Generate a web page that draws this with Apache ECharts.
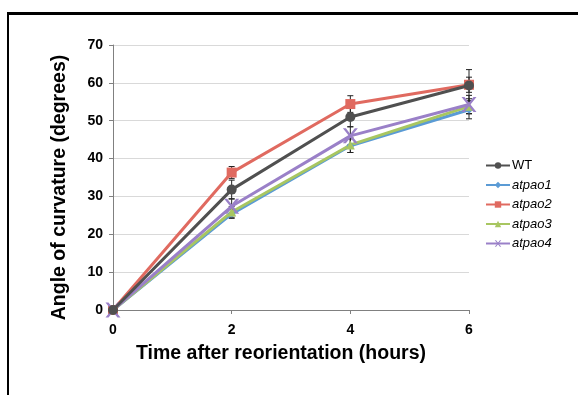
<!DOCTYPE html>
<html>
<head>
<meta charset="utf-8">
<script src="https://cdn.jsdelivr.net/npm/echarts@6/dist/echarts.min.js"></script>
<style>
  html, body { margin: 0; padding: 0; background: #fff; }
  #frame { position: absolute; left: 7px; top: 12px; width: 571px; height: 383px;
           border-left: 2px solid #000; border-top: 3px solid #000; box-sizing: border-box; }
  #main { position: absolute; left: 0; top: 0; width: 578px; height: 395px; }
</style>
</head>
<body>
<div id="frame"></div>
<div id="main"></div>
<script>
// hours
var hours = [0, 2, 4, 6];
var names = ['WT', 'atpao1', 'atpao2', 'atpao3', 'atpao4'];
// mean angle (degrees)
var wt     = [0, 31.8, 51.0, 59.3];
var atpao1 = [0, 25.4, 43.4, 52.9];
var atpao2 = [0, 36.3, 54.4, 59.5];
var atpao3 = [0, 25.9, 43.6, 53.8];
var atpao4 = [0, 27.4, 46.0, 54.3];
// error (+/-)
var wtErr     = [0, 2.5, 2.6, 4.2];
var atpao1Err = [0, 1.2, 1.8, 2.4];
var atpao2Err = [0, 1.6, 2.2, 2.0];
var atpao3Err = [0, 1.4, 2.0, 2.0];
var atpao4Err = [0, 2.0, 2.4, 2.4];

var means = [wt, atpao1, atpao2, atpao3, atpao4];
var errs = [wtErr, atpao1Err, atpao2Err, atpao3Err, atpao4Err];
var colors = ['#505050', '#5b9bd5', '#e06a60', '#a8c661', '#9a80c8'];
var symbols = ['circle', 'diamond', 'rect', 'triangle',
  'path://M0,0 L2,0 L5,3 L8,0 L10,0 L6,4 L10,8 L8,8 L5,5 L2,8 L0,8 L4,4 Z'];
var sizes = [10, 8, 10, 9, 15];

var myChart = echarts.init(document.getElementById('main'));

var series = [];
// error bars first so the lines sit over them
names.forEach(function (n, k) {
  var d = hours.map(function (h, i) {
    return [h, means[k][i] - errs[k][i], means[k][i] + errs[k][i]];
  });
  series.push({
    type: 'custom',
    name: n + '_err',
    z: 1,
    data: d,
    encode: { x: 0, y: [1, 2] },
    renderItem: function (params, api) {
      var lo = api.coord([api.value(0), api.value(1)]);
      var hi = api.coord([api.value(0), api.value(2)]);
      var w = 3;
      var st = { stroke: '#222', lineWidth: 1 };
      return {
        type: 'group',
        children: [
          { type: 'line', shape: { x1: lo[0], y1: lo[1], x2: hi[0], y2: hi[1] }, style: st },
          { type: 'line', shape: { x1: lo[0] - w, y1: lo[1], x2: lo[0] + w, y2: lo[1] }, style: st },
          { type: 'line', shape: { x1: hi[0] - w, y1: hi[1], x2: hi[0] + w, y2: hi[1] }, style: st }
        ]
      };
    }
  });
});
names.forEach(function (n, k) {
  series.push({
    type: 'line',
    name: n,
    z: 3 + (k === 0 ? 2 : 0),
    data: hours.map(function (h, i) { return [h, means[k][i]]; }),
    symbol: symbols[k],
    symbolSize: sizes[k],
    showAllSymbol: true,
    itemStyle: { color: colors[k] },
    lineStyle: { color: colors[k], width: 3 }
  });
});

myChart.setOption({
  animation: false,
  grid: { left: 113, right: 109, top: 45, bottom: 85 },
  legend: {
    data: names,
    orient: 'vertical',
    left: 480,
    top: 154,
    itemWidth: 24,
    itemHeight: 8,
    itemGap: 6.5,
    textStyle: {
      fontFamily: 'Liberation Sans',
      fontSize: 13,
      color: '#000',
      padding: [0, 0, 0, -3],
      rich: { i: { fontStyle: 'italic', fontFamily: 'Liberation Sans', fontSize: 13 } }
    },
    formatter: function (n) { return n === 'WT' ? n : '{i|' + n + '}'; }
  },
  xAxis: {
    type: 'value',
    min: 0, max: 6, interval: 2,
    name: 'Time after reorientation (hours)',
    nameLocation: 'middle',
    nameGap: 34,
    nameTextStyle: { fontFamily: 'Liberation Sans', fontWeight: 'bold', fontSize: 19.5, color: '#000',
      padding: [0, 20, 0, 0] },
    axisLine: { lineStyle: { color: '#808080', width: 1 } },
    axisTick: { show: true, length: 4, lineStyle: { color: '#808080' } },
    axisLabel: { fontFamily: 'Liberation Sans', fontWeight: 'bold', fontSize: 14, color: '#000', margin: 13 },
    splitLine: { show: false }
  },
  yAxis: {
    type: 'value',
    min: 0, max: 70, interval: 10,
    name: 'Angle of curvature (degrees)',
    nameLocation: 'middle',
    nameGap: 43,
    nameTextStyle: { fontFamily: 'Liberation Sans', fontWeight: 'bold', fontSize: 19.5, color: '#000',
      padding: [0, 20, 0, 0] },
    axisLine: { show: true, lineStyle: { color: '#808080', width: 1 } },
    axisTick: { show: true, length: 4, lineStyle: { color: '#808080' } },
    axisLabel: { fontFamily: 'Liberation Sans', fontWeight: 'bold', fontSize: 14, color: '#000', margin: 10 },
    splitLine: { show: true, lineStyle: { color: '#d9d9d9', width: 1 } }
  },
  series: series
});
</script>
</body>
</html>
